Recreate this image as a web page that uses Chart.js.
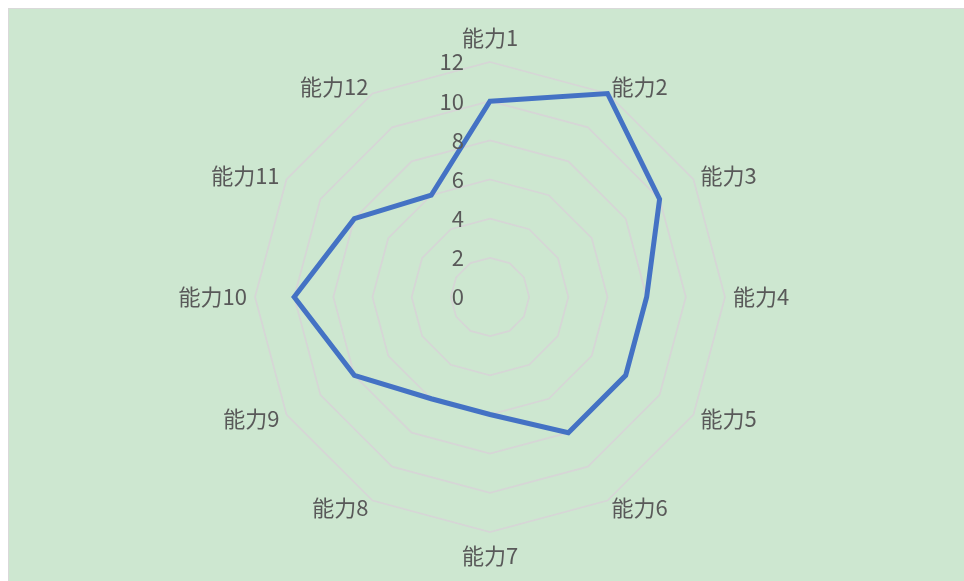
<!DOCTYPE html>
<html>
<head>
<meta charset="utf-8">
<script src="https://cdn.jsdelivr.net/npm/chart.js@4/dist/chart.umd.min.js"></script>
<style>
  html, body { margin: 0; padding: 0; background: #ffffff; overflow: hidden; }
  #box {
    position: absolute; left: 8px; top: 8px;
    width: 960px; height: 580px;
    background: #cde7d0;
    border: 1px solid #d9d9d9;
  }
  canvas { position: absolute; left: 0; top: 0; }
</style>
</head>
<body>
<div id="box"><canvas id="radar" width="956" height="572"></canvas></div>
<script>
// 能力レーダー
const categories = ['能力1', '能力2', '能力3', '能力4', '能力5', '能力6',
                    '能力7', '能力8', '能力9', '能力10', '能力11', '能力12'];
const scores = [10, 12, 10, 8, 8, 8, 6, 6, 8, 10, 8, 6];
const tickValues = [0, 2, 4, 6, 8, 10, 12];

const textColor = '#595959';
const gridColor = '#d6d6d6';
const lineBlue = '#4472C4';
const jpFont = '"Noto Sans CJK JP", "Noto Sans", sans-serif';

// labels drawn by hand so they sit like the Excel ones (vertically centred)
const labelPlugin = {
    id: 'excelLabels',
    afterDatasetsDraw(chart) {
        const scale = chart.scales.r;
        const ctx = chart.ctx;
        const R = scale.drawingArea;
        ctx.save();
        ctx.font = '22px ' + jpFont;
        ctx.fillStyle = textColor;
        ctx.textBaseline = 'middle';

        // scale numbers, left of the top spoke
        ctx.textAlign = 'right';
        tickValues.forEach(v => {
            const d = scale.getDistanceFromCenterForValue(v);
            ctx.fillText(String(v), scale.xCenter - 26, scale.yCenter - d);
        });

        // category names round the outside
        const n = categories.length;
        categories.forEach((lab, i) => {
            const topOrBottom = (i === 0 || i === n / 2);
            const pos = scale.getPointPosition(i, R + (topOrBottom ? 24 : 8));
            if (topOrBottom) ctx.textAlign = 'center';
            else ctx.textAlign = i < n / 2 ? 'left' : 'right';
            ctx.fillText(lab, pos.x, pos.y);
        });
        ctx.restore();
    }
};

new Chart(document.getElementById('radar'), {
    type: 'radar',
    data: {
        labels: categories,
        datasets: [{
            label: '系列1',
            data: scores,
            borderColor: lineBlue,
            backgroundColor: 'rgba(0,0,0,0)',
            borderWidth: 5,
            pointRadius: 0,
            pointHoverRadius: 0,
            fill: false,
            tension: 0
        }]
    },
    options: {
        responsive: false,
        animation: false,
        layout: { padding: { top: 53, bottom: 49, left: 6, right: 0 } },
        plugins: {
            legend: { display: false },
            tooltip: { enabled: false }
        },
        scales: {
            r: {
                min: 0,
                max: 12,
                ticks: { stepSize: 2, display: false },
                grid: { color: gridColor, lineWidth: 1.75 },
                angleLines: { display: false },
                pointLabels: { display: false }
            }
        }
    },
    plugins: [labelPlugin]
});
</script>
</body>
</html>
